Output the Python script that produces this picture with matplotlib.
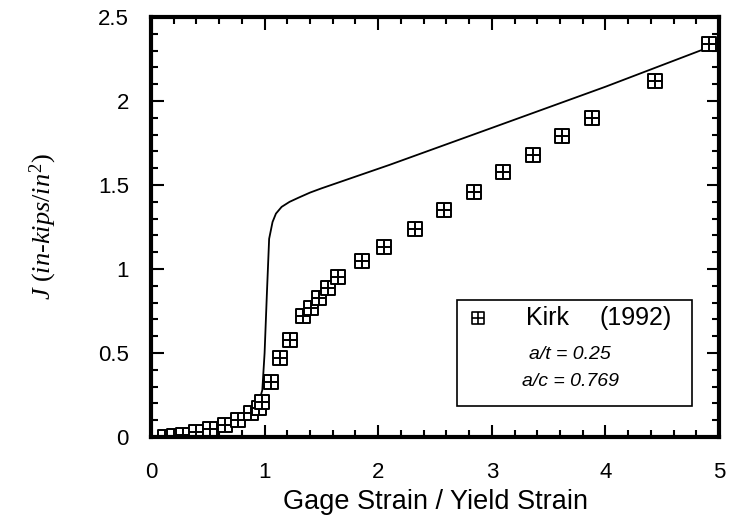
import numpy as np
import matplotlib.pyplot as plt
from matplotlib.path import Path
from matplotlib.patches import Rectangle
from matplotlib.ticker import MultipleLocator

plt.rcParams['mathtext.fontset'] = 'custom'
plt.rcParams['mathtext.it'] = 'Liberation Serif:italic'
plt.rcParams['mathtext.rm'] = 'Liberation Serif'

# Kirk (1992) measured points
kirk_x = [0.12, 0.2, 0.28, 0.4, 0.52, 0.65, 0.77, 0.88, 0.95, 0.98,
          1.06, 1.14, 1.22, 1.34, 1.41, 1.48, 1.56, 1.65, 1.86, 2.05,
          2.32, 2.58, 2.84, 3.1, 3.36, 3.62, 3.88, 4.44, 4.91]
kirk_y = [0.0, 0.005, 0.01, 0.03, 0.05, 0.07, 0.10, 0.14, 0.17, 0.21,
          0.33, 0.47, 0.58, 0.72, 0.77, 0.83, 0.89, 0.95, 1.05, 1.13,
          1.24, 1.35, 1.46, 1.58, 1.68, 1.79, 1.90, 2.12, 2.34]

# analysis curve
curve_x = [0.1, 0.3, 0.5, 0.7, 0.85, 0.92, 0.96, 0.98, 1.0, 1.02, 1.04,
           1.07, 1.1, 1.15, 1.22, 1.3, 1.4, 1.5, 1.65, 1.8, 2.1, 2.55,
           3.0, 4.0, 4.95]
curve_y = [0.0, 0.01, 0.04, 0.09, 0.15, 0.19, 0.23, 0.28, 0.5, 0.85, 1.18,
           1.28, 1.33, 1.37, 1.40, 1.425, 1.455, 1.48, 1.515, 1.55, 1.62,
           1.73, 1.84, 2.085, 2.33]

# square with a cross inside
verts = [(-1, -1), (1, -1), (1, 1), (-1, 1), (-1, -1),
         (0, -1), (0, 1), (-1, 0), (1, 0)]
codes = [Path.MOVETO, Path.LINETO, Path.LINETO, Path.LINETO, Path.CLOSEPOLY,
         Path.MOVETO, Path.LINETO, Path.MOVETO, Path.LINETO]
box_cross = Path(verts, codes)

fig = plt.figure(figsize=(7.34, 5.24), dpi=100)
ax = fig.add_axes([0.2057, 0.166, 0.7739, 0.8015])

ax.plot(curve_x, curve_y, color='black', lw=1.3)
ax.plot(kirk_x, kirk_y, ls='none', marker=box_cross, ms=10,
        mfc='white', mec='black', mew=1.4)

ax.set_xlim(0, 5)
ax.set_ylim(0, 2.5)
ax.xaxis.set_major_locator(MultipleLocator(1))
ax.xaxis.set_minor_locator(MultipleLocator(0.2))
ax.yaxis.set_minor_locator(MultipleLocator(0.1))
ax.set_yticks([0, 0.5, 1, 1.5, 2, 2.5])
ax.set_yticklabels(['0', '0.5', '1', '1.5', '2', '2.5'])

for s in ax.spines.values():
    s.set_linewidth(3)
ax.tick_params(which='both', direction='in', top=True, right=True, width=1.5)
ax.tick_params(which='major', length=9)
ax.tick_params(which='minor', length=5)
ax.tick_params(axis='x', which='major', pad=18, labelsize=16)
ax.tick_params(axis='y', which='major', pad=16, labelsize=16)
for lab in ax.get_xticklabels() + ax.get_yticklabels():
    lab.set_family('Liberation Sans')

ax.set_xlabel('Gage Strain / Yield Strain', fontsize=19.5,
              family='Liberation Sans', labelpad=4)
ax.set_ylabel(r'$J\ (in$-$kips/in^2)$', fontsize=19, labelpad=28,
              family='Liberation Serif', style='italic')

# legend box
ax.add_patch(Rectangle((0.539, 0.074), 0.414, 0.252, transform=ax.transAxes,
                       fill=False, ec='black', lw=1.2, zorder=5))
ax.plot([0.576], [0.283], transform=ax.transAxes, ls='none', marker=box_cross,
        ms=8.5, mfc='white', mec='black', mew=1.2, clip_on=False)
ax.text(0.66, 0.283, 'Kirk', transform=ax.transAxes, fontsize=18,
        family='Liberation Sans', va='center', ha='left')
ax.text(0.917, 0.283, '(1992)', transform=ax.transAxes, fontsize=18,
        family='Liberation Sans', va='center', ha='right')
ax.text(0.738, 0.197, 'a/t = 0.25', transform=ax.transAxes, fontsize=14,
        family='Liberation Sans', style='italic', va='center', ha='center')
ax.text(0.738, 0.131, 'a/c = 0.769', transform=ax.transAxes, fontsize=14,
        family='Liberation Sans', style='italic', va='center', ha='center')

fig.savefig('out.png', dpi=100)
